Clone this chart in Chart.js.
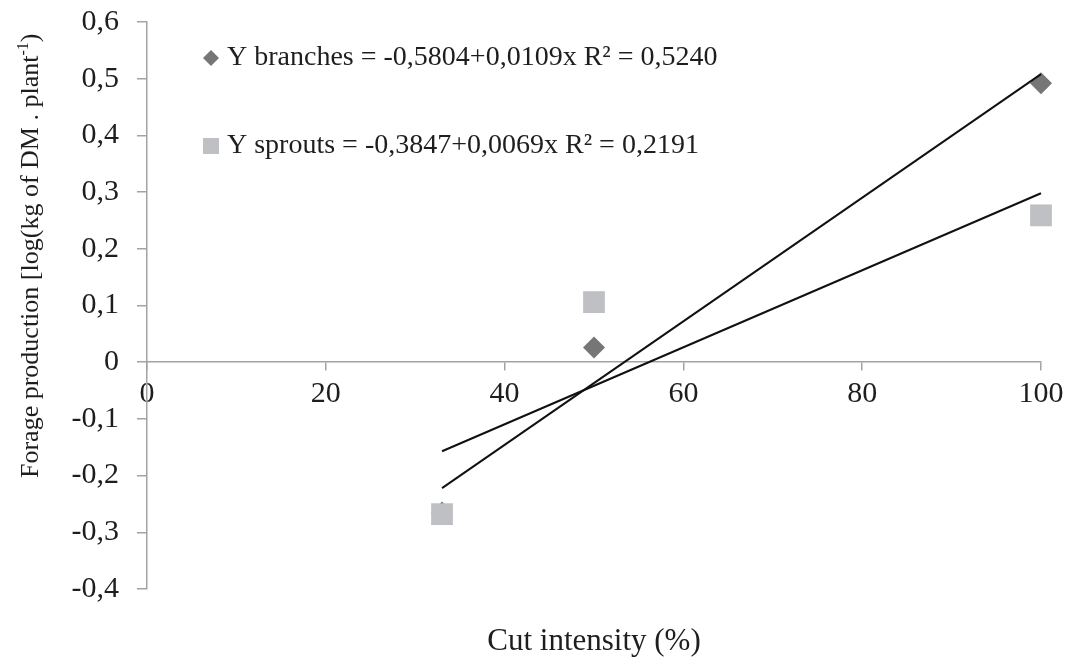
<!DOCTYPE html>
<html>
<head>
<meta charset="utf-8">
<script src="https://cdn.jsdelivr.net/npm/chart.js@4"></script>
<style>
  html, body { margin: 0; padding: 0; background: #fff; }
  #wrap { width: 1067px; height: 662px; }
</style>
</head>
<body>
<div id="wrap"><canvas id="grafico" width="1067" height="662"></canvas></div>
<script>
// dados
var cortes = [33, 50, 100];
var galhos = [-0.265, 0.026, 0.492];
var brotos = [-0.268, 0.106, 0.259];
// extremos das retas de tendencia
var tendenciaX = [33, 100];
var tendenciaGalhos = [-0.222, 0.508];
var tendenciaBrotos = [-0.157, 0.298];

var legendaGalhos = 'Y branches = -0,5804+0,0109x R² = 0,5240';
var legendaBrotos = 'Y sprouts = -0,3847+0,0069x R² = 0,2191';
var tituloX = 'Cut intensity (%)';
var tituloY = ['Forage production [log(kg of DM . plant', '-1', ')'];

var corGalhos = '#767676';
var corBrotos = '#bfc0c4';
var corEixo = '#a3a3a3';
var corTexto = '#1e1e1e';
var fonte = 'Liberation Serif';

function pontos(xs, ys) {
    return xs.map(function (x, i) {
        return { x: x, y: ys[i] };
    });
}

function formatar(v) {
    var r = Math.round(v * 10) / 10;
    if (r === 0) return '0';
    return r.toFixed(1).replace('.', ',');
}

var textosExtras = {
    id: 'textosExtras',
    afterDraw: function (chart) {
        var ctx = chart.ctx;
        var area = chart.chartArea;
        ctx.save();
        ctx.fillStyle = corTexto;
        ctx.font = '31px "' + fonte + '"';
        ctx.textBaseline = 'alphabetic';
        ctx.textAlign = 'center';
        ctx.fillText(tituloX, (area.left + area.right) / 2, 650);

        // titulo do eixo y, com expoente menor
        ctx.save();
        ctx.translate(38, 478);
        ctx.rotate(-Math.PI / 2);
        ctx.textAlign = 'left';
        var fNormal = '26px "' + fonte + '"';
        var fSobre = '16px "' + fonte + '"';
        ctx.font = fNormal;
        ctx.fillText(tituloY[0], 0, 0);
        var pos = ctx.measureText(tituloY[0]).width;
        ctx.font = fSobre;
        ctx.fillText(tituloY[1], pos, -10);
        pos += ctx.measureText(tituloY[1]).width;
        ctx.font = fNormal;
        ctx.fillText(tituloY[2], pos, 0);
        ctx.restore();

        // legenda dentro da area
        ctx.textAlign = 'left';
        ctx.textBaseline = 'middle';
        ctx.font = '28px "' + fonte + '"';
        var lx = 211, ly1 = 58, ly2 = 146;
        ctx.fillStyle = corGalhos;
        ctx.beginPath();
        ctx.moveTo(lx, ly1 - 8);
        ctx.lineTo(lx + 8, ly1);
        ctx.lineTo(lx, ly1 + 8);
        ctx.lineTo(lx - 8, ly1);
        ctx.closePath();
        ctx.fill();
        ctx.fillStyle = corBrotos;
        ctx.fillRect(lx - 8, ly2 - 8, 16, 16);
        ctx.fillStyle = corTexto;
        ctx.fillText(legendaGalhos, lx + 16, ly1);
        ctx.fillText(legendaBrotos, lx + 16, ly2);
        ctx.restore();
    }
};

var ctx = document.getElementById('grafico').getContext('2d');
var grafico = new Chart(ctx, {
    type: 'scatter',
    data: {
        datasets: [{
            label: 'Tendência galhos',
            type: 'line',
            data: pontos(tendenciaX, tendenciaGalhos),
            borderColor: '#111',
            borderWidth: 2,
            pointRadius: 0,
            fill: false,
            clip: false,
            order: 0,
        },
        {
            label: 'Tendência brotos',
            type: 'line',
            data: pontos(tendenciaX, tendenciaBrotos),
            borderColor: '#111',
            borderWidth: 2,
            pointRadius: 0,
            fill: false,
            clip: false,
            order: 1,
        },
        {
            label: 'Y sprouts',
            data: pontos(cortes, brotos),
            pointStyle: 'rect',
            pointRadius: 15.4,
            pointHoverRadius: 15.4,
            backgroundColor: corBrotos,
            borderColor: corBrotos,
            borderWidth: 0,
            clip: false,
            order: 2,
        },
        {
            label: 'Y branches',
            data: pontos(cortes, galhos),
            pointStyle: 'rectRot',
            pointRadius: 11,
            pointHoverRadius: 11,
            backgroundColor: corGalhos,
            borderColor: corGalhos,
            borderWidth: 0,
            clip: false,
            order: 3,
        }],
    },
    options: {
        responsive: false,
        animation: false,
        layout: {
            padding: { left: 0, right: 26, top: 22, bottom: 73 },
        },
        plugins: {
            legend: { display: false },
            tooltip: { enabled: false },
        },
        scales: {
            x: {
                type: 'linear',
                position: { y: 0 },
                min: 0,
                max: 100,
                afterFit: function (scale) {
                    scale.paddingLeft = 0;
                    scale.paddingRight = 0;
                },
                ticks: {
                    stepSize: 20,
                    color: corTexto,
                    font: { family: fonte, size: 30 },
                    padding: 6,
                    maxRotation: 0,
                },
                grid: {
                    drawOnChartArea: false,
                    color: corEixo,
                    tickLength: 8,
                    lineWidth: 1.5,
                },
                border: { color: corEixo, width: 1.5 },
            },
            y: {
                min: -0.4,
                max: 0.6,
                afterFit: function (scale) {
                    scale.width = 147;
                    scale.paddingTop = 0;
                    scale.paddingBottom = 0;
                },
                ticks: {
                    stepSize: 0.1,
                    color: corTexto,
                    font: { family: fonte, size: 30 },
                    padding: 18,
                    callback: function (v) {
                        return formatar(v);
                    },
                },
                grid: {
                    drawOnChartArea: false,
                    color: corEixo,
                    tickLength: 10,
                    lineWidth: 1.5,
                },
                border: { color: corEixo, width: 1.5 },
            },
        },
    },
    plugins: [textosExtras],
});
</script>
</body>
</html>
